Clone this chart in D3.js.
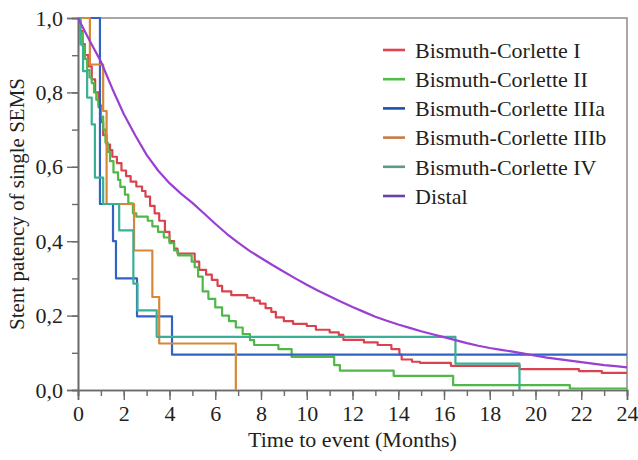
<!DOCTYPE html>
<html>
<head>
<meta charset="utf-8">
<script src="https://cdn.jsdelivr.net/npm/d3@7"></script>
<style>
body{margin:0;background:#fff;}
text{font-family:"Liberation Serif","DejaVu Serif",serif;fill:#231f20;}
</style>
</head>
<body>
<svg width="638" height="460"></svg>
<script>
// Kaplan-Meier curves: [months, patency]
const curveI = [[0,1],[0.1,0.965],[0.2,0.93],[0.3,0.9],[0.45,0.87],[0.6,0.835],[0.75,0.8],[0.9,0.765],[1.0,0.72],[1.1,0.685],[1.25,0.66],[1.4,0.645],[1.5,0.627],[1.7,0.61],[1.9,0.59],[2.1,0.575],[2.3,0.56],[2.55,0.547],[2.8,0.535],[2.95,0.52],[3.15,0.495],[3.35,0.475],[3.55,0.455],[3.8,0.425],[4.0,0.4],[4.2,0.38],[4.35,0.367],[5.1,0.345],[5.3,0.323],[5.6,0.31],[5.85,0.296],[6.1,0.28],[6.3,0.265],[6.7,0.255],[7.4,0.248],[7.7,0.24],[7.95,0.232],[8.2,0.22],[8.45,0.21],[8.65,0.195],[9.0,0.185],[9.4,0.178],[10.0,0.172],[10.4,0.162],[11.0,0.155],[11.4,0.148],[11.6,0.135],[12.5,0.128],[13.1,0.121],[13.7,0.11],[14.05,0.095],[14.15,0.082],[14.6,0.076],[14.95,0.073],[16.3,0.065],[19.3,0.056],[21.9,0.051],[22.9,0.046],[24,0.046]];
const curveII = [[0,1],[0.1,0.96],[0.2,0.925],[0.3,0.89],[0.4,0.86],[0.5,0.84],[0.6,0.825],[0.7,0.8],[0.8,0.78],[0.9,0.76],[1.0,0.735],[1.1,0.7],[1.2,0.665],[1.3,0.64],[1.4,0.615],[1.55,0.585],[1.75,0.565],[1.85,0.546],[2.05,0.525],[2.2,0.502],[2.4,0.475],[2.55,0.466],[3.05,0.455],[3.25,0.44],[3.5,0.425],[3.75,0.41],[4.0,0.395],[4.2,0.375],[4.37,0.362],[4.97,0.345],[5.1,0.33],[5.25,0.305],[5.45,0.265],[5.7,0.245],[6.0,0.222],[6.3,0.2],[6.6,0.185],[6.9,0.168],[7.2,0.15],[7.52,0.134],[7.7,0.121],[8.76,0.11],[9.34,0.089],[11.2,0.067],[11.45,0.052],[13.8,0.038],[16.4,0.013],[21.5,0.004],[24,0.004]];
const curveIIIa = [[0,1],[0.96,0.5],[1.53,0.4],[1.66,0.3],[2.58,0.198],[4.11,0.095],[24,0.095]];
const curveIIIb = [[0,1],[0.52,0.875],[1.1,0.75],[1.25,0.5],[2.45,0.375],[3.25,0.25],[3.55,0.125],[6.9,0]];
const curveIV = [[0,1],[0.1,0.929],[0.22,0.857],[0.4,0.786],[0.6,0.714],[0.74,0.571],[1.1,0.5],[1.8,0.429],[2.42,0.286],[2.6,0.214],[3.44,0.143],[16.5,0.071],[19.3,0]];
const curveDistal = [[0,1],[0.5,0.94],[1,0.883],[1.5,0.81],[2,0.742],[2.5,0.685],[3,0.632],[3.5,0.59],[4,0.556],[4.5,0.528],[5,0.503],[5.5,0.475],[6,0.447],[6.5,0.42],[7,0.396],[7.5,0.374],[8,0.355],[8.5,0.336],[9,0.318],[9.5,0.3],[10,0.283],[10.5,0.267],[11,0.252],[11.5,0.237],[12,0.223],[12.5,0.21],[13,0.197],[13.5,0.186],[14,0.176],[14.5,0.167],[15,0.158],[15.5,0.15],[16,0.142],[16.5,0.134],[17,0.126],[17.5,0.119],[18,0.113],[18.5,0.108],[19,0.103],[19.5,0.098],[20,0.092],[20.5,0.087],[21,0.083],[21.5,0.079],[22,0.075],[22.5,0.071],[23,0.067],[23.5,0.064],[24,0.061]];

const groupNames = ["Bismuth-Corlette I","Bismuth-Corlette II","Bismuth-Corlette IIIa","Bismuth-Corlette IIIb","Bismuth-Corlette IV","Distal"];
const xTicks = [0,2,4,6,8,10,12,14,16,18,20,22,24];
const yTicks = [0,0.2,0.4,0.6,0.8,1.0];

const colors = ["#d9434f","#4fb847","#3262c4","#d6873a","#38b096","#9a3fd4"];
const legendColors = ["#e0444e","#52bd45","#1f4ea6","#c77c45","#5f9886","#6544a6"];
const series = [curveI,curveII,curveIIIa,curveIIIb,curveIV,curveDistal];

const svg = d3.select("svg");
const x = d3.scaleLinear().domain([0,24]).range([78,627]);
const y = d3.scaleLinear().domain([0,1]).range([390,18]);
const comma = d => d3.format(".1f")(d).replace(".",",");

// top / right frame
svg.append("path")
    .attr("d",`M${x(0)},${y(1)}H${x(24)}V${y(0)}`)
    .attr("fill","none").attr("stroke","#8c8c8c").attr("stroke-width",1.5);

function styleAxis(g){
    g.selectAll(".domain").attr("stroke","#6b6b6b").attr("stroke-width",1.6);
    g.selectAll(".tick line").attr("stroke","#6b6b6b").attr("stroke-width",1.4);
    g.selectAll("text").attr("font-size","22px").attr("fill","#231f20")
        .attr("font-family","'Liberation Serif','DejaVu Serif',serif");
}

// minor ticks
svg.append("g").attr("transform",`translate(0,${y(0)})`)
    .call(d3.axisBottom(x).tickValues(d3.range(0,25,1)).tickSize(6).tickFormat(""))
    .call(styleAxis);
svg.append("g").attr("transform",`translate(${x(0)},0)`)
    .call(d3.axisLeft(y).tickValues(d3.range(0,11).map(d=>d/10)).tickSize(6).tickFormat(""))
    .call(styleAxis);

// major ticks
svg.append("g").attr("transform",`translate(0,${y(0)})`)
    .call(d3.axisBottom(x).tickValues(xTicks).tickSize(10).tickPadding(5))
    .call(styleAxis);
svg.append("g").attr("transform",`translate(${x(0)},0)`)
    .call(d3.axisLeft(y).tickValues(yTicks).tickSize(11).tickPadding(4).tickFormat(comma))
    .call(styleAxis);

// curves
const stepLine = d3.line().x(d=>x(d[0])).y(d=>y(d[1])).curve(d3.curveStepAfter);
const smoothLine = d3.line().x(d=>x(d[0])).y(d=>y(d[1]));
series.forEach((s,i)=>{
    svg.append("path")
        .attr("d", i===5 ? smoothLine(s) : stepLine(s))
        .attr("fill","none")
        .attr("stroke",colors[i])
        .attr("stroke-width",2.2)
        .attr("stroke-linejoin","round");
});

// legend
const legend = svg.append("g");
groupNames.forEach((name,i)=>{
    const ly = 50 + i*29.2;
    legend.append("line").attr("x1",383).attr("x2",405).attr("y1",ly).attr("y2",ly)
        .attr("stroke",legendColors[i]).attr("stroke-width",2.6);
    legend.append("text").attr("x",415).attr("y",ly).attr("dy","0.35em")
        .attr("font-size","22px").text(name);
});

// axis titles
svg.append("text").attr("x",(x(0)+x(24))/2).attr("y",447)
    .attr("text-anchor","middle").attr("font-size","22px").text("Time to event (Months)");
svg.append("text").attr("transform",`translate(24,${(y(0)+y(1))/2}) rotate(-90)`)
    .attr("text-anchor","middle").attr("font-size","21px").text("Stent patency of single SEMS");
</script>
</body>
</html>
